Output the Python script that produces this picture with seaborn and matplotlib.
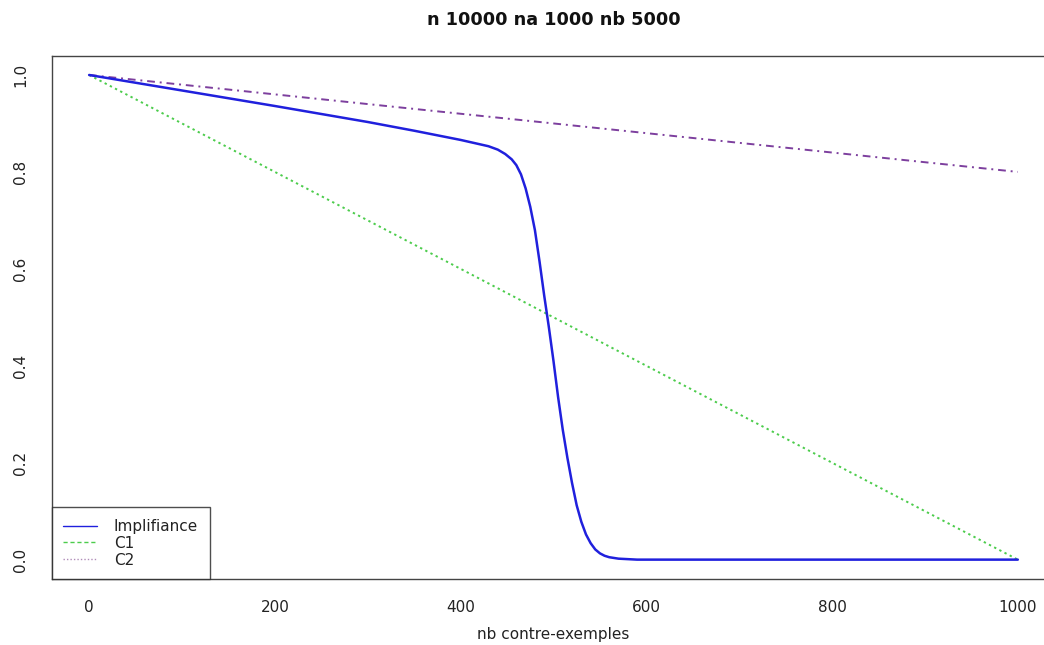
import matplotlib
matplotlib.use("Agg")
import matplotlib.pyplot as plt
from matplotlib.lines import Line2D
import seaborn as sns
import pandas as pd

# Implifiance index as a function of the number of counter-examples
impl_x = [0, 100, 200, 300, 350, 400, 430, 440, 448, 455, 460, 465, 470, 475,
          480, 485, 490, 495, 500, 505, 510, 515, 520, 525, 530, 535, 540, 545,
          550, 555, 560, 570, 580, 590, 700, 850, 1000]
impl_y = [1.0, 0.968, 0.936, 0.903, 0.885, 0.866, 0.853, 0.846, 0.837, 0.826,
          0.814, 0.795, 0.766, 0.728, 0.680, 0.615, 0.545, 0.480, 0.410, 0.335,
          0.268, 0.210, 0.158, 0.112, 0.078, 0.052, 0.034, 0.021, 0.013, 0.008,
          0.005, 0.002, 0.001, 0.0, 0.0, 0.0, 0.0]

# Reference criteria C1 and C2
c1_x = [0, 1000]
c1_y = [1.0, 0.0]
c2_x = [0, 1000]
c2_y = [1.0, 0.8]

series_names = ["Implifiance", "C1", "C2"]
x_ticks = [0, 200, 400, 600, 800, 1000]
y_ticks = [0.0, 0.2, 0.4, 0.6, 0.8, 1.0]
title = "n 10000 na 1000 nb 5000"
x_label = "nb contre-exemples"

BLUE = "#2020dd"
GREEN = "#4ccc4c"
PURPLE = "#7d3f9e"
TXT = "#222222"

sns.set_style("white")
plt.rcParams["font.family"] = ["DejaVu Sans"]

fig = plt.figure(figsize=(10.44, 6.45), dpi=100)
ax = fig.add_axes([0.0498, 0.1023, 0.9607, 0.8115])

df_impl = pd.DataFrame({"x": impl_x, "y": impl_y})
df_c1 = pd.DataFrame({"x": c1_x, "y": c1_y})
df_c2 = pd.DataFrame({"x": c2_x, "y": c2_y})

sns.lineplot(data=df_c1, x="x", y="y", ax=ax, color=GREEN, lw=1.4,
             linestyle=(0, (1.2, 1.8)), legend=False)
sns.lineplot(data=df_c2, x="x", y="y", ax=ax, color=PURPLE, lw=1.4,
             linestyle=(0, (4, 2.5, 1, 2.5)), legend=False)
sns.lineplot(data=df_impl, x="x", y="y", ax=ax, color=BLUE, lw=1.8,
             legend=False)

ax.set_xlim(-40, 1040)
ax.set_ylim(-0.04, 1.04)
ax.set_xticks(x_ticks)
ax.set_xticklabels([str(t) for t in x_ticks])
ax.set_yticks(y_ticks)
ax.set_yticklabels([f"{t:.1f}" for t in y_ticks], rotation=90, va="center")

for s in ax.spines.values():
    s.set_color("#444444")
    s.set_linewidth(1.0)

ax.tick_params(axis="x", direction="out", length=6, width=0.9, color="#444444",
               pad=9, labelsize=11, labelcolor=TXT)
ax.tick_params(axis="y", direction="out", length=7, width=0.9, color="#444444",
               pad=10, labelsize=11, labelcolor=TXT)

ax.set_xlabel(x_label, fontsize=11, color=TXT, labelpad=9)
ax.set_ylabel("")
ax.set_title(title, fontsize=12.7, fontweight="bold", pad=22, color="#111111")

handles = [
    Line2D([], [], color=BLUE, lw=1.0),
    Line2D([], [], color=GREEN, lw=1.0, linestyle=(0, (3, 2))),
    Line2D([], [], color="#b08cb8", lw=1.0, linestyle=(0, (1, 1.5))),
]
leg = ax.legend(handles, series_names, loc="lower left", bbox_to_anchor=(0, 0),
                borderaxespad=0, fancybox=False, frameon=True, fontsize=11,
                handlelength=2.2, handletextpad=1.1, borderpad=0.75,
                labelspacing=0.12)
leg.get_frame().set_edgecolor(TXT)
leg.get_frame().set_linewidth(1.0)
for t in leg.get_texts():
    t.set_color(TXT)

fig.savefig("out.png", dpi=100)
